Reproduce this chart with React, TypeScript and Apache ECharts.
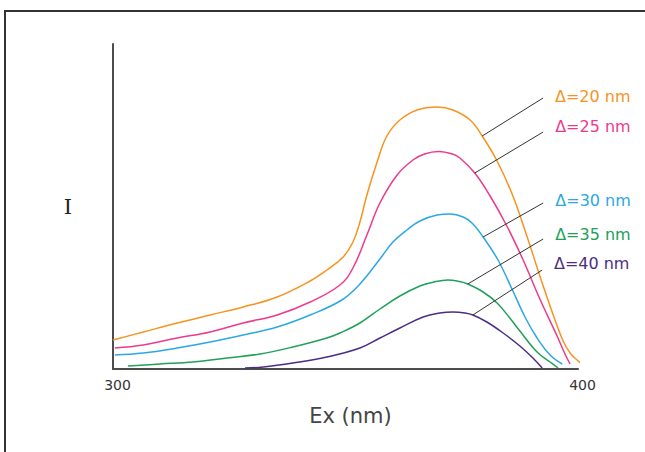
import React, { useEffect, useRef } from "react";
import * as echarts from "echarts";

// Excitation wavelength (nm) and relative intensity for each Δ
const delta20: [number, number][] = [
  [300.0, 29], [306.5, 37], [313.8, 46], [320.9, 54], [328.0, 62], [335.3, 72],
  [342.4, 88], [346.0, 99], [349.5, 112], [351.6, 127], [353.1, 147], [354.6, 174],
  [356.8, 207], [358.9, 233], [361.7, 249], [365.4, 259], [369.7, 262], [373.1, 259],
  [376.8, 249], [379.4, 233], [382.6, 208], [386.0, 173], [389.0, 133], [391.8, 93],
  [394.6, 55], [396.8, 28], [398.3, 16], [399.8, 9], [401.1, 4],
];
const delta25: [number, number][] = [
  [300.4, 21], [306.5, 24], [313.8, 31], [320.9, 37], [328.0, 46], [335.3, 54],
  [342.4, 67], [348.8, 84], [351.6, 101], [354.6, 134], [357.4, 166], [361.1, 194],
  [364.5, 209], [367.0, 215], [370.0, 217.5], [373.0, 215], [374.6, 211], [377.8, 196],
  [381.1, 173], [384.7, 143], [388.2, 109], [391.8, 70], [395.5, 33], [397.2, 15], [398.3, 5],
];
const delta30: [number, number][] = [
  [300.4, 14], [306.5, 16], [313.8, 21], [320.9, 27], [328.0, 34], [335.3, 42],
  [342.4, 54], [349.2, 69], [353.1, 85], [357.4, 110], [360.2, 127], [363.2, 139],
  [366.0, 148], [369.7, 154], [372.5, 155], [375.3, 152], [377.2, 146], [379.6, 132],
  [382.8, 109], [385.8, 80], [388.6, 52], [391.2, 31], [394.0, 14], [396.6, 5],
];
const delta35: [number, number][] = [
  [303.2, 3], [310.1, 5], [317.2, 7], [324.5, 11], [331.6, 15], [338.7, 22],
  [346.0, 31], [348.8, 36], [353.1, 46], [357.4, 60], [361.7, 73], [366.0, 83],
  [369.0, 87], [372.0, 89], [374.5, 87.5], [376.3, 85], [379.6, 77], [382.6, 66],
  [385.5, 50], [387.5, 38], [391.2, 17], [394.0, 7], [395.7, 1],
];
const delta40: [number, number][] = [
  [328.4, 1], [332.3, 2], [338.7, 6], [346.0, 12], [353.1, 21], [357.4, 31],
  [361.7, 41], [366.7, 52], [370.3, 56], [373.1, 57], [375.7, 56], [377.4, 54],
  [380.4, 47], [383.9, 36], [387.5, 23], [390.3, 11], [392.3, 1],
];

const seriesNames = ["Δ=20 nm", "Δ=25 nm", "Δ=30 nm", "Δ=35 nm", "Δ=40 nm"];
const seriesColors = ["#F7931E", "#EC3A8C", "#2BA8E4", "#20A05A", "#4B2E83"];
const seriesData = [delta20, delta25, delta30, delta35, delta40];

// Leader lines: [point on curve], [outer end near label]
const leaderFrom: [number, number][] = [
  [379.4, 233], [377.8, 196], [379.6, 132], [376.3, 85], [377.4, 54],
];
const leaderTo: [number, number][] = [
  [392.5, 271], [392.5, 237], [392.5, 166], [392.5, 130], [392.3, 99],
];
const labelShift = [2, 11.6, 6, 7.8, 11.3];

const xTicks = [300, 400];

export default function App() {
  const ref = useRef<HTMLDivElement>(null);

  useEffect(() => {
    document.body.style.margin = "0";
    if (!ref.current) return;
    const chart = echarts.init(ref.current, undefined, { renderer: "svg" });

    const series = seriesData.map((d, i) => ({
      type: "line",
      name: seriesNames[i],
      data: d,
      showSymbol: false,
      smooth: 0.4,
      clip: false,
      lineStyle: { color: seriesColors[i], width: 1.5 },
      itemStyle: { color: seriesColors[i] },
      markLine: {
        silent: true,
        symbol: ["none", "none"],
        lineStyle: { color: "#333", width: 1, type: "solid" },
        label: {
          show: true,
          position: "end",
          formatter: seriesNames[i],
          color: seriesColors[i],
          fontSize: 16,
          fontFamily: "DejaVu Sans",
          distance: [14, labelShift[i]],
        },
        data: [[{ coord: leaderFrom[i] }, { coord: leaderTo[i] }]],
      },
    }));

    chart.setOption({
      animation: false,
      backgroundColor: "#ffffff",
      graphic: [
        {
          type: "polyline",
          shape: { points: [[5, 452], [5, 11], [645, 11]] },
          style: { stroke: "#333", lineWidth: 2, fill: "none" },
        },
      ],
      grid: { left: 113, top: 44, width: 465, height: 325 },
      xAxis: {
        type: "value",
        min: xTicks[0],
        max: xTicks[1],
        interval: 100,
        name: "Ex (nm)",
        nameLocation: "middle",
        nameGap: 36,
        nameTextStyle: {
          fontSize: 21,
          color: "#444",
          fontFamily: "DejaVu Sans",
          padding: [0, 0, 0, 10],
        },
        axisLine: { lineStyle: { color: "#4d4d4d", width: 2 } },
        axisTick: { show: false },
        splitLine: { show: false },
        axisLabel: {
          margin: 9,
          fontSize: 14,
          color: "#333",
          fontFamily: "DejaVu Sans",
          padding: [0, 0, 0, 9],
        },
      },
      yAxis: {
        type: "value",
        min: 0,
        max: 325,
        name: "I",
        nameLocation: "middle",
        nameRotate: 0,
        nameGap: 41,
        nameTextStyle: { fontSize: 21, color: "#222", fontFamily: "DejaVu Serif" },
        axisLine: { show: true, lineStyle: { color: "#4d4d4d", width: 2 } },
        axisTick: { show: false },
        splitLine: { show: false },
        axisLabel: { show: false },
      },
      series,
    });

    return () => chart.dispose();
  }, []);

  return <div ref={ref} style={{ width: 645, height: 452 }} />;
}
